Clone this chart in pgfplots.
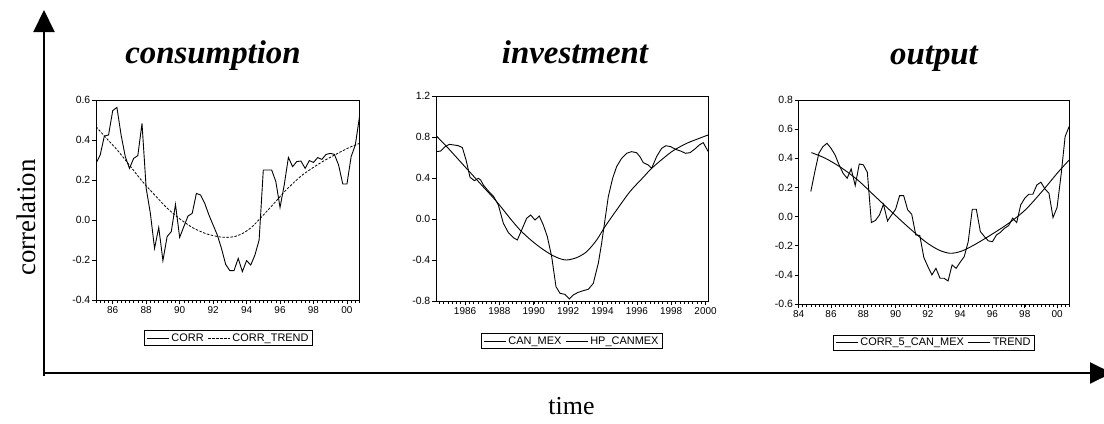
\documentclass[border=0pt]{standalone}
\usepackage{fontspec}
\setmainfont{Liberation Serif}
\newfontfamily\arial{Liberation Sans}
\usepackage{pgfplots}
\pgfplotsset{compat=1.18}
\usetikzlibrary{arrows.meta}

\pgfplotsset{
  panel/.style={
    scale only axis, anchor=south west,
    axis line style={line width=0.8bp},
    tick style={line width=0.6bp, black},
    tick align=outside, tick pos=left,
    major tick length=4bp, minor tick length=2.5bp,
    yticklabel style={font=\arial\fontsize{10.5}{11}\selectfont, inner sep=1.5bp},
    xticklabel style={font=\arial\fontsize{10}{11}\selectfont, inner sep=2bp},
    legend columns=2,
    legend image code/.code={\draw[##1] (0bp,0bp) -- (22bp,0bp);},
    legend style={anchor=center, draw=black, line width=0.9bp,
      font=\arial\fontsize{11}{12}\selectfont, inner xsep=2bp, inner ysep=1bp,
      /tikz/every even column/.append style={column sep=2bp}},
  },
  dline/.style={black, line width=0.9bp},
}

\begin{document}
\begin{tikzpicture}[x=1bp,y=1bp]
\useasboundingbox (0,0) rectangle (1104,423);
\clip (0,0) rectangle (1104,423);

% ---------------- consumption ----------------
\begin{axis}[panel, at={(96bp,123bp)}, width=263.5bp, height=200bp,
  xmin=1985, xmax=2000.75, ymin=-0.4, ymax=0.6,
  xtick={1986,1988,...,2000}, xticklabels={86,88,90,92,94,96,98,00},
  minor xtick={1985,1985.25,...,2000.75},
  ytick={-0.4,-0.2,0,0.2,0.4,0.6}, yticklabels={-0.4,-0.2,0.0,0.2,0.4,0.6},
  legend style={at={(0.503,-0.19)}}]
\addplot[dline] table[x expr=1985+0.25*\coordindex, y index=0] {
v
0.283
0.325
0.420
0.425
0.547
0.563
0.425
0.317
0.258
0.308
0.322
0.483
0.158
0.033
-0.142
-0.037
-0.203
-0.083
-0.058
0.078
-0.087
-0.033
0.020
0.033
0.133
0.125
0.083
0.025
-0.025
-0.075
-0.142
-0.222
-0.253
-0.253
-0.192
-0.258
-0.203
-0.225
-0.175
-0.100
0.250
0.250
0.250
0.192
0.063
0.175
0.313
0.267
0.292
0.295
0.258
0.297
0.288
0.312
0.303
0.328
0.333
0.328
0.275
0.180
0.180
0.317
0.375
0.517
};
\addlegendentry{CORR}
\addplot[dline, line width=0.8bp, dash pattern=on 2.5bp off 1.5bp, smooth] table {
x y
1985.00 0.467
1985.63 0.408
1986.27 0.350
1987.02 0.272
1987.78 0.192
1988.51 0.125
1989.27 0.058
1990.02 0.005
1990.77 -0.038
1991.53 -0.067
1992.28 -0.083
1992.78 -0.087
1993.27 -0.083
1993.77 -0.067
1994.29 -0.037
1994.78 0.005
1995.28 0.050
1995.77 0.095
1996.27 0.142
1996.77 0.183
1997.26 0.220
1997.76 0.250
1998.27 0.278
1998.77 0.303
1999.27 0.325
1999.76 0.347
2000.26 0.367
2000.75 0.383
};
\addlegendentry{CORR\_TREND}
\end{axis}

% ---------------- investment ----------------
\begin{axis}[panel, at={(436bp,122bp)}, width=272.3bp, height=205bp,
  xmin=1984.31, xmax=2000.16, ymin=-0.8, ymax=1.2,
  xtick={1986,1988,...,2000},
  xticklabels={1986,1988,1990,1992,1994,1996,1998,2000},
  minor xtick={1984.5,1984.75,...,2000},
  ytick={-0.8,-0.4,0,0.4,0.8,1.2}, yticklabels={-0.8,-0.4,0.0,0.4,0.8,1.2},
  legend style={at={(0.4995,-0.195)}}]
\addplot[dline] table {
x y
1984.313 0.657
1984.584 0.663
1984.837 0.706
1985.089 0.728
1985.360 0.722
1985.612 0.715
1985.845 0.696
1986.058 0.576
1986.291 0.407
1986.543 0.374
1986.776 0.397
1986.911 0.380
1987.067 0.332
1987.357 0.273
1987.648 0.224
1987.938 0.137
1988.230 -0.042
1988.521 -0.133
1988.812 -0.182
1989.044 -0.205
1989.297 -0.107
1989.587 0.007
1989.820 0.039
1990.072 -0.010
1990.324 0.029
1990.557 -0.059
1990.790 -0.172
1991.042 -0.367
1991.294 -0.660
1991.526 -0.725
1991.817 -0.735
1992.069 -0.780
1992.302 -0.741
1992.593 -0.715
1992.884 -0.699
1993.175 -0.686
1993.466 -0.628
1993.756 -0.432
1993.950 -0.237
1994.144 -0.010
1994.338 0.218
1994.590 0.397
1994.823 0.511
1995.114 0.592
1995.405 0.641
1995.696 0.657
1995.986 0.647
1996.180 0.608
1996.374 0.550
1996.665 0.527
1996.859 0.494
1997.150 0.608
1997.441 0.689
1997.693 0.715
1997.964 0.706
1998.255 0.680
1998.546 0.663
1998.837 0.641
1999.089 0.647
1999.380 0.683
1999.632 0.722
1999.865 0.745
2000.156 0.657
};
\addlegendentry{CAN\_MEX}
\addplot[dline, smooth] table {
x y
1984.313 0.813
1984.933 0.706
1985.903 0.527
1986.873 0.348
1987.842 0.169
1988.618 0.007
1989.200 -0.107
1989.781 -0.198
1990.363 -0.276
1991.042 -0.351
1991.527 -0.387
1991.914 -0.400
1992.496 -0.377
1993.078 -0.319
1993.660 -0.205
1994.144 -0.075
1994.823 0.088
1995.599 0.267
1996.374 0.407
1996.859 0.494
1997.538 0.592
1998.119 0.667
1998.895 0.738
1999.477 0.777
2000.156 0.820
};
\addlegendentry{HP\_CANMEX}
\end{axis}

% ---------------- output ----------------
\begin{axis}[panel, at={(798.7bp,119bp)}, width=270.6bp, height=204bp,
  xmin=1984, xmax=2000.76, ymin=-0.6, ymax=0.8,
  xtick={1984,1986,...,2000}, xticklabels={84,86,88,90,92,94,96,98,00},
  minor xtick={1984,1984.25,...,2000.75},
  ytick={-0.6,-0.4,-0.2,0,0.2,0.4,0.6,0.8},
  yticklabels={-0.6,-0.4,-0.2,0.0,0.2,0.4,0.6,0.8},
  legend style={at={(0.5,-0.189)}}]
\addplot[dline] table[x expr=1984.75+0.25*\coordindex, y index=0] {
v
0.172
0.309
0.435
0.480
0.503
0.469
0.423
0.355
0.297
0.263
0.327
0.213
0.361
0.355
0.304
-0.041
-0.027
0.011
0.085
-0.030
0.011
0.050
0.144
0.144
0.046
0.016
-0.126
-0.130
-0.281
-0.343
-0.400
-0.355
-0.423
-0.423
-0.442
-0.332
-0.355
-0.313
-0.275
-0.172
0.050
0.050
-0.103
-0.137
-0.167
-0.172
-0.126
-0.108
-0.080
-0.062
-0.011
-0.041
0.080
0.126
0.153
0.153
0.217
0.236
0.190
0.160
-0.007
0.062
0.286
0.549
0.618
};
\addlegendentry{CORR\_5\_CAN\_MEX}
\addplot[dline, smooth] table {
x y
1984.784 0.439
1985.651 0.400
1986.683 0.332
1987.715 0.245
1988.747 0.137
1989.779 0.030
1990.811 -0.075
1991.843 -0.172
1992.669 -0.229
1993.391 -0.252
1994.114 -0.236
1994.939 -0.190
1995.971 -0.121
1997.003 -0.046
1998.035 0.046
1999.067 0.172
2000.099 0.309
2000.760 0.389
};
\addlegendentry{TREND}
\end{axis}

% ---------------- titles and big axes ----------------
\node[anchor=base, font=\fontsize{33}{36}\selectfont\bfseries\itshape] at (213,359.7) {consumption};
\node[anchor=base, font=\fontsize{33}{36}\selectfont\bfseries\itshape] at (575,359.7) {investment};
\node[anchor=base, font=\fontsize{33}{36}\selectfont\bfseries\itshape] at (934,358.7) {output};
\node[anchor=base, rotate=90, font=\fontsize{27}{30}\selectfont] at (35,205.5) {correlation};
\node[anchor=base, font=\fontsize{26}{28}\selectfont, inner sep=1bp] at (571.5,9) {time};

\draw[line width=2bp, -{Triangle[length=22bp,width=21bp]}] (44,47) -- (44,413);
\draw[line width=2bp, -{Triangle[length=22bp,width=21bp]}] (44,50) -- (1112,50);
\end{tikzpicture}
\end{document}
